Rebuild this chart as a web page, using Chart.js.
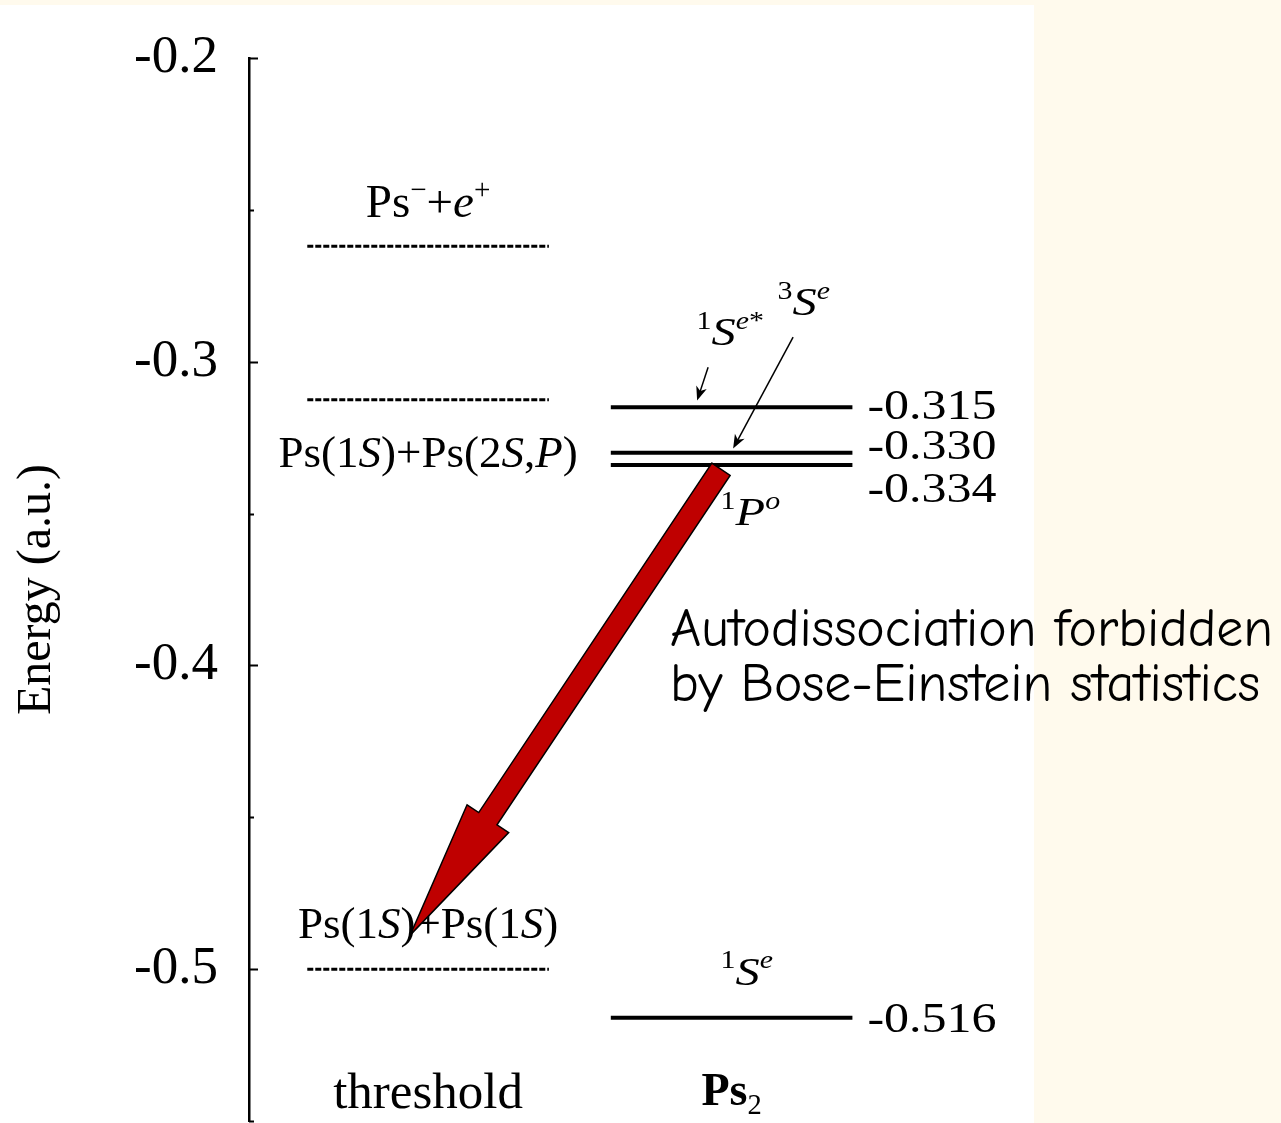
<!DOCTYPE html>
<html>
<head>
<meta charset="utf-8">
<script src="https://cdn.jsdelivr.net/npm/chart.js@4.4.1/dist/chart.umd.min.js"></script>
<style>
  html, body { margin: 0; padding: 0; background: #fffaed; }
  #wrap { width: 1281px; height: 1123px; }
</style>
</head>
<body>
<div id="wrap"><canvas id="levels" width="1281" height="1123"></canvas></div>
<script>
(function() {
'use strict';

// --- data (energies in a.u.) ---
const columns = ['threshold', 'Ps2'];
const thresholdNames = ['Ps-+e+', 'Ps(1S)+Ps(2S,P)', 'Ps(1S)+Ps(1S)'];
const thresholdEnergies = [-0.262, -0.3125, -0.5];
const ps2States = ['1Se*', '3Se', '1Po', '1Se'];
const ps2Energies = [-0.315, -0.330, -0.334, -0.516];
const ps2ValueLabels = ['-0.315', '-0.330', '-0.334', '-0.516'];
const yMajorTicks = [-0.2, -0.3, -0.4, -0.5];

const SERIF = '"Liberation Serif", "Times New Roman", serif';
const COMIC = '"Comic Sans MS", "Comic Neue", "DejaVu Sans", sans-serif';
const HALF = 0.398;           // half width of a level bar, in column units
const colX = i => i + 1;      // column index -> x value

// rich text pieces: n normal, i italic, u sup, ui sup italic, d sub, b bold
const thresholdText = [
  [['Ps', 'n'], ['\u2212', 'u'], ['+', 'n'], ['e', 'i'], ['+', 'u']],
  [['Ps(1', 'n'], ['S', 'i'], [')+Ps(2', 'n'], ['S', 'i'], [',', 'n'], ['P', 'i'], [')', 'n']],
  [['Ps(1', 'n'], ['S', 'i'], [')+Ps(1', 'n'], ['S', 'i'], [')', 'n']]
];
const thresholdTextDy = [-29, 67, -31];
const thresholdTextSize = [47, 45, 45];

const stateText = {
  '1Se*': [['1', 'u'], ['S', 'i'], ['e', 'ui'], ['*', 'u']],
  '3Se': [['3', 'u'], ['S', 'i'], ['e', 'ui']],
  '1Po': [['1', 'u'], ['P', 'i'], ['o', 'ui']],
  '1Se': [['1', 'u'], ['S', 'i'], ['e', 'ui']]
};
// where each state symbol sits relative to a level: [energy, dx px, dy px]
const stateAnchor = {
  '1Se*': [-0.315, -35, -62],
  '3Se': [-0.315, 46, -92],
  '1Po': [-0.334, -11, 60],
  '1Se': [-0.516, -11, -33]
};
const valueNudge = [-2, -8, 23, 0];

// pointer arrows (data coords)
const pointers = [
  [[1.9226, -0.3018], [1.8864, -0.3128]],
  [[2.2026, -0.2919], [2.005, -0.3286]]
];
const bigArrow = [[1.965, -0.3354], [0.941, -0.4888]];

const noteLines = ['Autodissociation forbidden', 'by Bose-Einstein statistics'];
const noteAt = [1.797, -0.3936];

// --- datasets: one per level ---
const datasets = [];
thresholdEnergies.forEach((e, i) => {
  datasets.push({
    label: thresholdNames[i],
    data: [{ x: colX(0) - HALF, y: e }, { x: colX(0) + HALF, y: e }],
    borderColor: '#000',
    borderWidth: 3,
    borderDash: [6, 2],
    pointRadius: 0,
    borderCapStyle: 'butt'
  });
});
ps2Energies.forEach((e, i) => {
  datasets.push({
    label: ps2States[i],
    data: [{ x: colX(1) - HALF, y: e }, { x: colX(1) + HALF, y: e }],
    borderColor: '#000',
    borderWidth: 4,
    pointRadius: 0,
    borderCapStyle: 'butt'
  });
});

function drawRich(ctx, segs, x, y, size, align, stretch) {
  const pieces = segs.map(([t, k]) => {
    const sup = k.indexOf('u') >= 0, sub = k.indexOf('d') >= 0;
    const s = (sup || sub) ? size * 0.62 : size;
    const style = (k.indexOf('i') >= 0 ? 'italic ' : '') + (k.indexOf('b') >= 0 ? 'bold ' : '');
    const font = style + s + 'px ' + SERIF;
    ctx.font = font;
    return { t, font, w: ctx.measureText(t).width, dy: sup ? -size * 0.4 : sub ? size * 0.2 : 0 };
  });
  const total = pieces.reduce((a, p) => a + p.w, 0);
  let cx = align === 'left' ? 0 : -total / 2;
  ctx.save();
  ctx.translate(x, y);
  ctx.scale(stretch || 1, 1);
  ctx.textAlign = 'left';
  ctx.textBaseline = 'alphabetic';
  ctx.fillStyle = '#000';
  pieces.forEach(p => { ctx.font = p.font; ctx.fillText(p.t, cx, p.dy); cx += p.w; });
  ctx.restore();
}

function thinArrow(ctx, x1, y1, x2, y2) {
  const a = Math.atan2(y2 - y1, x2 - x1);
  ctx.save();
  ctx.strokeStyle = '#000';
  ctx.fillStyle = '#000';
  ctx.lineWidth = 1.5;
  ctx.beginPath();
  ctx.moveTo(x1, y1);
  ctx.lineTo(x2 - 6 * Math.cos(a), y2 - 6 * Math.sin(a));
  ctx.stroke();
  ctx.translate(x2, y2);
  ctx.rotate(a);
  ctx.beginPath();
  ctx.moveTo(0, 0);
  ctx.lineTo(-14, -5.5);
  ctx.lineTo(-10, 0);
  ctx.lineTo(-14, 5.5);
  ctx.closePath();
  ctx.fill();
  ctx.restore();
}

const backdrop = {
  id: 'backdrop',
  beforeDraw(chart) {
    const ctx = chart.ctx;
    ctx.save();
    ctx.fillStyle = '#fffaed';
    ctx.fillRect(0, 0, chart.width, chart.height);
    ctx.fillStyle = '#ffffff';
    ctx.fillRect(0, 5, 1034, chart.height - 5);
    ctx.restore();
  }
};

const annotations = {
  id: 'annotations',
  afterDraw(chart) {
    const ctx = chart.ctx;
    const xs = chart.scales.x, ys = chart.scales.y;
    const area = chart.chartArea;
    const px = v => xs.getPixelForValue(v);
    const py = v => ys.getPixelForValue(v);

    // inward tick marks
    ctx.save();
    ctx.strokeStyle = '#000';
    ctx.lineWidth = 2;
    ctx.beginPath();
    ys.ticks.forEach(t => {
      const y = Math.round(py(t.value)) + 0.5;
      const major = Math.abs(t.value * 10 - Math.round(t.value * 10)) < 1e-6;
      ctx.moveTo(area.left, y);
      ctx.lineTo(area.left + (major ? 9 : 5), y);
    });
    ctx.stroke();
    ctx.restore();

    // threshold names
    thresholdText.forEach((segs, i) => {
      drawRich(ctx, segs, px(colX(0)), py(thresholdEnergies[i]) + thresholdTextDy[i], thresholdTextSize[i], 'center', 1);
    });

    // Ps2 state symbols
    ps2States.forEach(s => {
      const [e, dx, dy] = stateAnchor[s];
      drawRich(ctx, stateText[s], px(colX(1)) + dx, py(e) + dy, 41, 'left', 1.18);
    });

    // Ps2 energies
    ps2Energies.forEach((e, i) => {
      drawRich(ctx, [[ps2ValueLabels[i], 'n']], px(colX(1) + HALF) + 15, py(e) + valueNudge[i] + 14, 42, 'left', 1.19);
    });

    // column labels
    drawRich(ctx, [['threshold', 'n']], px(colX(0)), area.bottom - 13, 51, 'center', 1);
    drawRich(ctx, [['Ps', 'b'], ['2', 'd']], px(colX(1)), area.bottom - 16, 46, 'center', 1);

    pointers.forEach(([a, b]) => thinArrow(ctx, px(a[0]), py(a[1]), px(b[0]), py(b[1])));

    // note text, sized to span the same width as the original
    ctx.save();
    ctx.fillStyle = '#000';
    ctx.textAlign = 'left';
    ctx.textBaseline = 'alphabetic';
    ctx.font = '40px ' + COMIC;
    const w0 = ctx.measureText(noteLines[0]).width;
    const size = 40 * 603 / w0;
    ctx.font = size.toFixed(1) + 'px ' + COMIC;
    noteLines.forEach((ln, i) => ctx.fillText(ln, px(noteAt[0]), py(noteAt[1]) + i * 55));
    ctx.restore();

    // big red arrow
    const tx = px(bigArrow[0][0]), ty = py(bigArrow[0][1]);
    const hx = px(bigArrow[1][0]), hy = py(bigArrow[1][1]);
    const len = Math.hypot(hx - tx, hy - ty);
    const ux = (hx - tx) / len, uy = (hy - ty) / len;
    const nx = -uy, ny = ux;
    const hw = 11, hh = 25, hl = 140;
    const bx = hx - ux * hl, by = hy - uy * hl;
    ctx.save();
    ctx.beginPath();
    ctx.moveTo(tx + nx * hw, ty + ny * hw);
    ctx.lineTo(bx + nx * hw, by + ny * hw);
    ctx.lineTo(bx + nx * hh, by + ny * hh);
    ctx.lineTo(hx, hy);
    ctx.lineTo(bx - nx * hh, by - ny * hh);
    ctx.lineTo(bx - nx * hw, by - ny * hw);
    ctx.lineTo(tx - nx * hw, ty - ny * hw);
    ctx.closePath();
    ctx.fillStyle = '#bf0000';
    ctx.fill();
    ctx.strokeStyle = '#000';
    ctx.lineWidth = 1.5;
    ctx.lineJoin = 'miter';
    ctx.stroke();
    ctx.restore();
  }
};

new Chart(document.getElementById('levels'), {
  type: 'line',
  data: { datasets: datasets },
  plugins: [backdrop, annotations],
  options: {
    responsive: false,
    devicePixelRatio: 1,
    animation: false,
    layout: { padding: { top: 58, bottom: 2, left: 0, right: 0 } },
    plugins: { legend: { display: false }, tooltip: { enabled: false } },
    scales: {
      x: { type: 'linear', min: 0.41, max: 3.81, display: false },
      y: {
        type: 'linear',
        min: -0.55,
        max: -0.2,
        afterFit(s) { s.width = 249; s.paddingTop = 0; s.paddingBottom = 0; },
        ticks: {
          stepSize: 0.05,
          padding: 31,
          color: '#000',
          font: { family: SERIF, size: 53 },
          callback: v => {
            const hit = yMajorTicks.find(t => Math.abs(t - v) < 1e-6);
            return hit !== undefined ? hit.toFixed(1) : '';
          }
        },
        grid: { display: false, drawTicks: false },
        border: { display: true, color: '#000', width: 2.5 },
        title: {
          display: true,
          text: 'Energy (a.u.)',
          color: '#000',
          font: { family: SERIF, size: 48 },
          padding: { top: 9, bottom: 0 }
        }
      }
    }
  }
});

})();
</script>
</body>
</html>
